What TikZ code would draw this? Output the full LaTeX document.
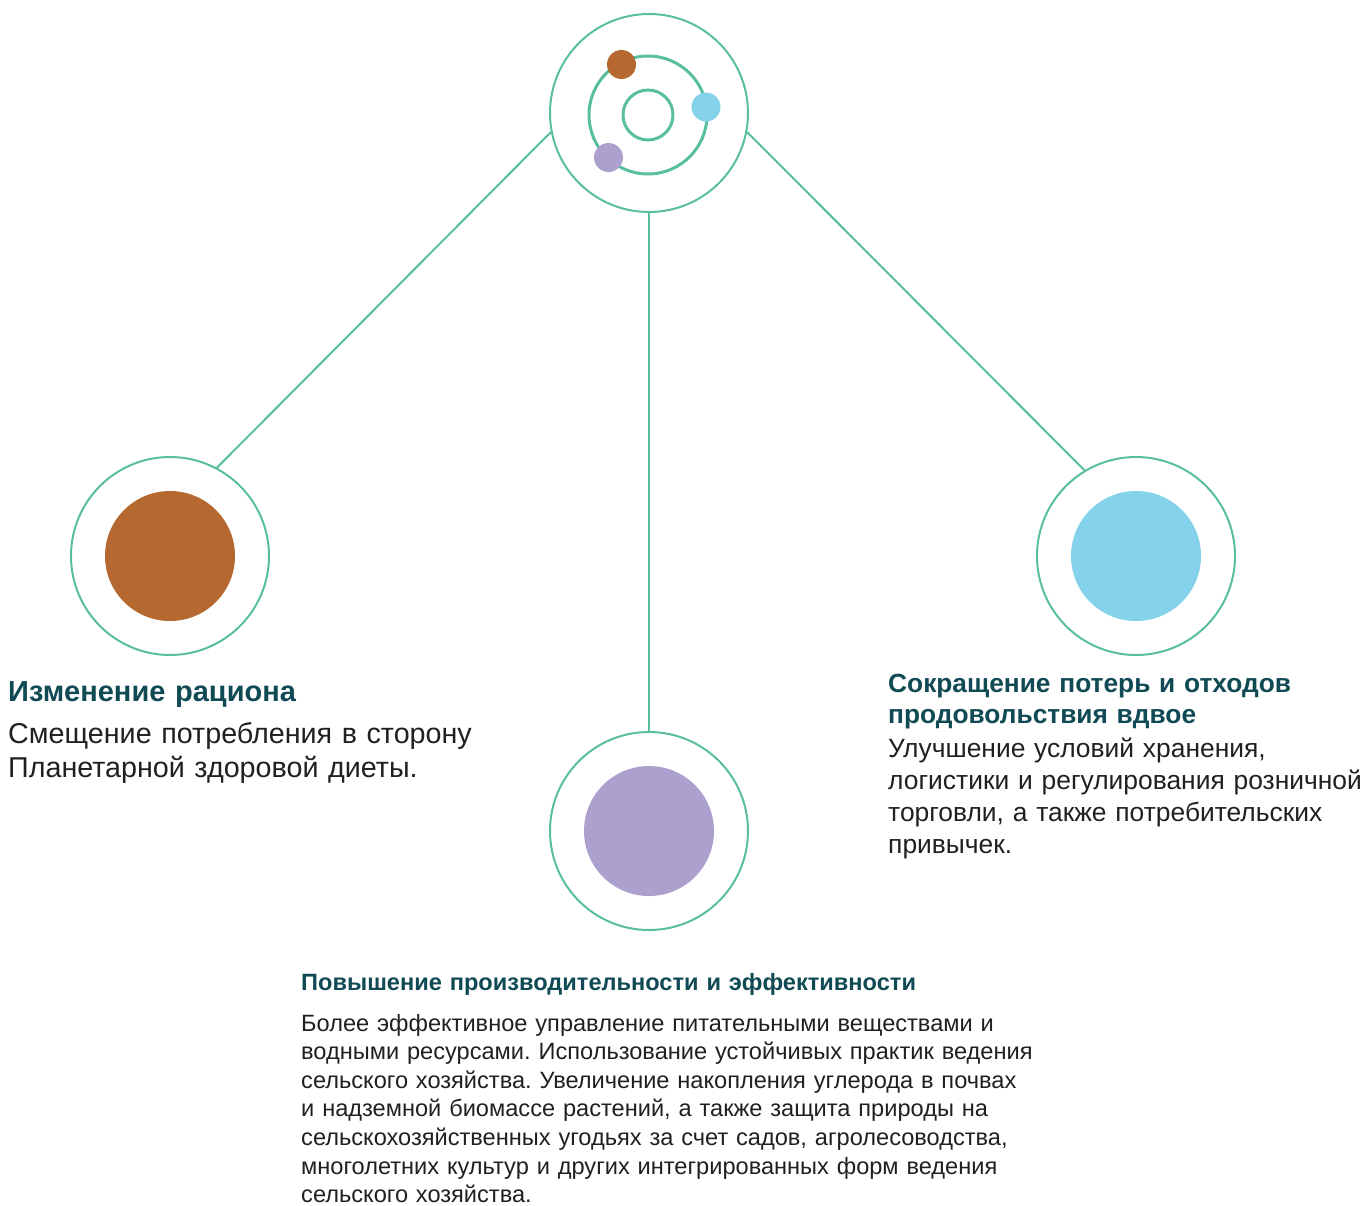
\documentclass[tikz,border=0pt]{standalone}
\usepackage{fontspec}
\setmainfont{Liberation Sans}
\frenchspacing
\usetikzlibrary{calc}
\newcommand{\pxsize}{1pt}
\definecolor{ringgreen}{RGB}{88,190,158}
\definecolor{dietbrown}{RGB}{181,105,48}
\definecolor{wasteblue}{RGB}{132,211,234}
\definecolor{yieldpurple}{RGB}{172,160,206}
\definecolor{headteal}{RGB}{16,74,84}
\definecolor{bodygrey}{RGB}{35,31,32}
\newcommand{\makelever}[3]{
	\node[ring] (#1) at (#2) {};
	\fill[#3] (#1.center) circle (65);
}
\tikzset{
	ring/.style={circle, draw=ringgreen, line width=2pt, minimum size=198pt, inner sep=0pt},
	link/.style={draw=ringgreen, line width=2pt},
	headtext/.style={anchor=base west, inner sep=0pt, text width=700pt, align=left, text=headteal},
	bodytext/.style={anchor=base west, inner sep=0pt, text width=800pt, align=left, text=bodygrey}
}

\begin{document}
\begin{tikzpicture}[x=\pxsize,y=-\pxsize]
	\useasboundingbox (0,0) rectangle (1365,1205);

	\node[ring] (hub) at (649,113) {};
	\makelever{diet}{170,556}{dietbrown}
	\makelever{waste}{1136,556}{wasteblue}
	\makelever{yield}{649,831}{yieldpurple}

	% orbit in the top circle
	\draw[ringgreen, line width=3pt] (648,115) circle (59);
	\draw[ringgreen, line width=3pt] (648,115) circle (25);
	\fill[dietbrown] (621.5,64.5) circle (14.5);
	\fill[wasteblue] (706,107) circle (14.5);
	\fill[yieldpurple] (608.5,157.5) circle (14.5);

	\draw[link] (hub.191.5) -- (diet.62);
	\draw[link] (hub.349.7) -- (waste.121);
	\draw[link] (hub.south) -- (yield.north);

	\node[headtext, font=\bfseries\fontsize{29}{32}\selectfont] (diethead) at (8,701) {Изменение рациона};
	\node[bodytext, font=\fontsize{28.7}{34.5}\selectfont] (dietbody) at (8,743) {Смещение потребления в сторону\\Планетарной здоровой диеты.};

	\node[headtext, font=\bfseries\fontsize{26.3}{31.7}\selectfont] (wastehead) at (888,692) {Сокращение потерь и отходов\\продовольствия вдвое};
	\node[bodytext, font=\fontsize{26.4}{32}\selectfont] (wastebody) at (888,757) {Улучшение условий хранения,\\логистики и регулирования розничной\\торговли, а также потребительских\\привычек.};

	\node[headtext, font=\bfseries\fontsize{23.6}{28.7}\selectfont] (yieldhead) at (301,990) {Повышение производительности и эффективности};
	\node[bodytext, font=\fontsize{23.6}{28.6}\selectfont] (yieldbody) at (301,1031) {Более эффективное управление питательными веществами и\\водными ресурсами. Использование устойчивых практик ведения\\сельского хозяйства. Увеличение накопления углерода в почвах\\и надземной биомассе растений, а также защита природы на\\сельскохозяйственных угодьях за счет садов, агролесоводства,\\многолетних культур и других интегрированных форм ведения\\сельского хозяйства.};

\end{tikzpicture}
\end{document}
